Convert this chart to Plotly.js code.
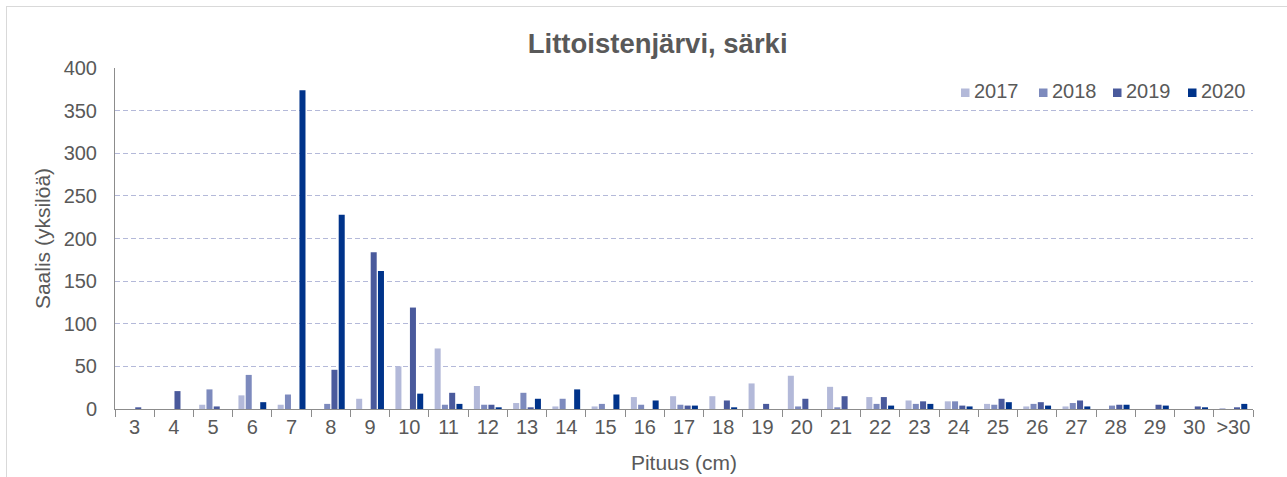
<!DOCTYPE html>
<html>
<head>
<meta charset="utf-8">
<script src="https://cdn.plot.ly/plotly-3.0.1.min.js"></script>
<style>
  html, body { margin: 0; padding: 0; background: #ffffff; overflow: hidden; }
  #frame { position: absolute; left: 6px; top: 6px; width: 1300px; height: 490px; border: 1px solid #d9d9d9; box-sizing: border-box; }
  #chart { position: absolute; left: 0; top: 0; width: 1287px; height: 477px; }
</style>
</head>
<body>
<div id="frame"></div>
<div id="chart"></div>
<script>
const categories = ['3','4','5','6','7','8','9','10','11','12','13','14','15','16','17','18','19','20','21','22','23','24','25','26','27','28','29','30','>30'];
const years = ['2017','2018','2019','2020'];
const y2017 = [0,0,5,16,5,0,12,50,71,27,7,3,3,14,15,15,30,39,26,14,10,9,6,3,3,0,0,0,1];
const y2018 = [0,0,23,40,17,6,0,0,5,5,19,12,6,5,5,0,0,3,2,6,6,9,5,6,7,4,0,0,0];
const y2019 = [2,21,3,0,0,46,184,119,19,5,2,0,0,0,4,10,6,12,15,14,9,4,12,8,10,5,5,3,2];
const y2020 = [0,0,0,8,374,228,162,18,6,2,12,23,17,10,4,2,0,0,0,4,6,3,8,4,3,5,4,2,6];
const yTicks = [0,50,100,150,200,250,300,350,400];

const series = [y2017, y2018, y2019, y2020];
const colors = ['#b3b9d9', '#7d8abd', '#4a5a9c', '#00338a'];
const textColor = '#595959';
const font = 'Liberation Sans, Arial, sans-serif';

// plot area geometry (pixels) used for the hand-placed legend
const W = 1287, H = 477, ML = 115, MR = 34, MT = 68, MB = 68;
const PW = W - ML - MR, PH = H - MT - MB;
const px = v => (v - ML) / PW;
const py = v => (H - MB - v) / PH;

const traces = series.map((vals, i) => ({
  type: 'bar',
  name: years[i],
  x: categories,
  y: vals,
  marker: { color: colors[i], line: { width: 0 } },
  hoverinfo: 'x+y+name'
}));

// custom legend (marker squares + labels), matching the spreadsheet look
const legendMarkerX = [961, 1039, 1113, 1188];
const shapes = [];
const annotations = [];
years.forEach((yr, i) => {
  shapes.push({
    type: 'rect', xref: 'paper', yref: 'paper',
    x0: px(legendMarkerX[i]), x1: px(legendMarkerX[i] + 8.5),
    y0: py(97), y1: py(88.5),
    fillcolor: colors[i], line: { width: 0 }
  });
  annotations.push({
    xref: 'paper', yref: 'paper',
    x: px(legendMarkerX[i] + 11), y: py(90.5),
    xanchor: 'left', yanchor: 'middle',
    text: yr, showarrow: false,
    font: { family: font, size: 20, color: textColor }
  });
});

const layout = {
  width: W,
  height: H,
  margin: { l: ML, r: MR, t: MT, b: MB },
  paper_bgcolor: 'rgba(0,0,0,0)',
  plot_bgcolor: 'rgba(0,0,0,0)',
  font: { family: font, size: 20, color: textColor },
  barmode: 'group',
  bargap: 0.26,
  bargroupgap: 0.17,
  showlegend: false,
  shapes: shapes,
  annotations: annotations,
  title: {
    text: '<b>Littoistenjärvi, särki</b>',
    font: { family: font, size: 27.5, color: textColor },
    xref: 'container', yref: 'container',
    x: 0.511, y: 1 - 43 / H, xanchor: 'center', yanchor: 'middle'
  },
  xaxis: {
    type: 'category',
    tickson: 'boundaries',
    tickangle: 0,
    ticks: 'outside',
    ticklen: 7,
    tickwidth: 1,
    tickcolor: '#8c8c8c',
    showline: true,
    linecolor: '#8c8c8c',
    linewidth: 1,
    showgrid: false,
    tickfont: { family: font, size: 20, color: textColor },
    title: { text: 'Pituus (cm)', font: { family: font, size: 21, color: textColor }, standoff: 18 }
  },
  yaxis: {
    range: [0, 400],
    tickvals: yTicks,
    ticktext: yTicks.map(String),
    showline: true,
    linecolor: '#8c8c8c',
    linewidth: 1,
    zeroline: false,
    showgrid: true,
    gridcolor: '#b4b9d9',
    gridwidth: 1,
    griddash: '5px,3px',
    ticks: '',
    ticklabelstandoff: 13,
    tickfont: { family: font, size: 20, color: textColor },
    title: { text: 'Saalis (yksilöä)', font: { family: font, size: 21, color: textColor }, standoff: 7 }
  }
};

Plotly.newPlot('chart', traces, layout, { displayModeBar: false, staticPlot: true });
</script>
</body>
</html>
